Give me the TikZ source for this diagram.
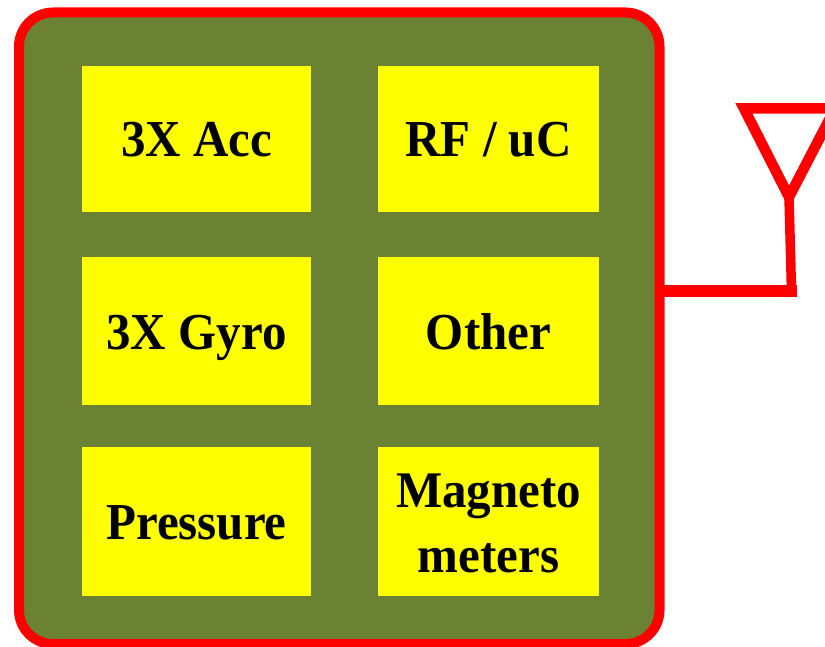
\documentclass[tikz,border=0pt]{standalone}
\usepackage{fontspec}
\usepackage{graphicx}
\setmainfont{Liberation Serif}
\definecolor{olivebg}{RGB}{107,130,53}
\definecolor{pureyellow}{RGB}{255,255,0}
\definecolor{purered}{RGB}{255,0,0}
\newcommand{\lbl}[1]{\scalebox{1.02}[1.08]{#1}}
\tikzset{
  x=1pt,y=-1pt,
  wire/.style={draw=purered,line join=miter},
  module/.style={fill=pureyellow,draw=none,inner sep=0pt,outer sep=0pt,
    font=\fontsize{48}{60}\selectfont\bfseries,anchor=north west,text height=36pt,text depth=0pt},
}
\begin{document}
\begin{tikzpicture}
\useasboundingbox (0,0) rectangle (825,647);
\clip (0,0) rectangle (825,647);
\fill[white] (0,0) rectangle (825,647);
\node[draw=purered,line width=10pt,fill=olivebg,rounded corners=34pt,minimum width=640.5pt,minimum height=631.5pt,inner sep=0pt,outer sep=0pt,anchor=north west] (board) at (19,12.5) {};
\node[module,minimum width=229pt,minimum height=146pt] (acc) at (82,66) {\lbl{3X Acc}};
\node[module,minimum width=221pt,minimum height=146pt] (rf) at (378,66) {\lbl{RF / uC}};
\node[module,minimum width=229pt,minimum height=148pt] (gyro) at (82,257) {\lbl{3X Gyro}};
\node[module,minimum width=221pt,minimum height=148pt] (other) at (378,257) {\lbl{Other}};
\node[module,minimum width=229pt,minimum height=149pt] (press) at (82,447) {\lbl{Pressure}};
\node[module,minimum width=221pt,minimum height=149pt,text height=101pt] (mag) at (378,447) {\scalebox{1.02}[1.07]{\begin{tabular}[b]{@{}c@{}}Magneto\\meters\end{tabular}}};
\coordinate (elbow) at (791.5,291);
\coordinate (tip) at (789,197);
\coordinate (tl) at (744,108.5);
\coordinate (tr) at (835,108.5);
\draw[wire,line width=12pt] (board.east |- elbow) -- ([xshift=5.5pt]elbow);
\draw[wire,line width=9.5pt] (elbow) -- (tip);
\draw[wire,line width=10.5pt] (tr) -- (tl) -- (tip) -- cycle;
\end{tikzpicture}
\end{document}
